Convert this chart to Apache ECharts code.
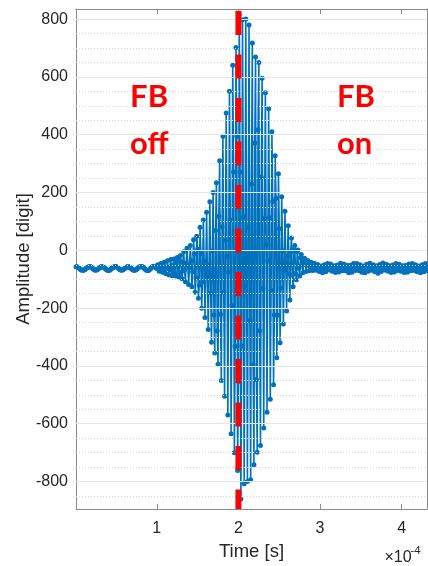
<!DOCTYPE html>
<html>
<head>
<meta charset="utf-8">
<script src="https://cdn.jsdelivr.net/npm/echarts@6/dist/echarts.min.js"></script>
<style>
html,body{margin:0;padding:0;background:#ffffff;}
#chart{width:428px;height:566px;}
</style>
</head>
<body>
<div id="chart"></div>
<script>
// ---- data ----
const timeStart = 1e-6;          // first sample time [s]
const sampleInterval = 1e-6;     // sample spacing [s]
const amplitude = [
  // baseline, FB off (t = 0.01 .. 1.00 e-4)
  -57,-57,-58,-60,-62,-65,-67,-68,-69,-69,-68,-66,-63,-61,-59,-58,
  -57,-56,-57,-59,-62,-64,-66,-68,-69,-68,-67,-65,-63,-60,-58,-57,
  -57,-58,-59,-61,-63,-66,-68,-69,-70,-69,-67,-65,-62,-60,-58,-57,
  -56,-56,-58,-60,-62,-65,-67,-68,-69,-68,-66,-64,-62,-60,-58,-57,
  -57,-57,-59,-61,-64,-66,-68,-69,-69,-68,-66,-63,-61,-59,-57,-56,
  -56,-57,-58,-61,-63,-66,-68,-70,-70,-69,-67,-64,-61,-58,-56,-55,
  -56,-58,-60,-63,
  // burst (t = 1.01 .. 2.92 e-4)
  -50,-55,-72,-68,  -46,-55,-76,-67,  -41,-58,-81,-64,  -36,-63,-85,-58,
  -32,-69,-88,-51,  -30,-76,-89,-43,  -25,-82,-92,-35,  -18,-76,-98,-40,
  -5,-68,-109,-46,  7,-52,-118,-59,   17,-36,-126,-73,  37,-13,-145,-95,
  49,4,-166,-121,   80,-11,-200,-109, 105,-38,-232,-89, 132,-91,-274,-51,
  168,-148,-318,-2, 200,-224,-355,69, 234,-278,-394,118, 310,-222,-450,82,
  395,-145,-505,35, 475,-21,-570,-74, 550,106,-635,-191, 640,271,-700,-332,
  702,394,-762,-454, 815,271,-860,-331, 798,115,-808,-125, 800,-80,-800,80,
  780,-243,-794,229, 717,-396,-742,371, 669,-447,-699,417, 650,-278,-675,253,
  595,-131,-615,111, 545,20,-560,-35,  490,113,-515,-138, 410,169,-465,-224,
  327,180,-372,-225, 265,75,-320,-130, 185,-2,-255,-68,  135,-55,-210,-20,
  85,-82,-172,-5,   43,-86,-126,3,    17,-80,-102,-5,   1,-62,-89,-26,
  -14,-52,-78,-40,  -27,-49,-73,-51,  -35,-48,-71,-58,  -41,-49,-70,-62,
  // baseline, FB on (t = 2.93 .. 4.31 e-4)
  -45,-52,-69,-62,  -49,-53,-73,-69,  -54,-63,-78,-69,  -50,-66,-74,-58,
  -46,-65,-68,-49,  -47,-58,-72,-62,  -53,-59,-77,-71,  -51,-62,-75,-64,
  -45,-63,-71,-53,  -47,-52,-71,-66,  -52,-61,-78,-69,  -52,-67,-76,-61,
  -46,-65,-70,-51,  -46,-55,-70,-61,  -50,-55,-76,-71,  -54,-64,-78,-68,
  -48,-66,-72,-54,  -45,-53,-69,-61,  -50,-55,-74,-69,  -53,-66,-79,-66,
  -49,-67,-73,-55,  -44,-53,-68,-59,  -48,-52,-72,-68,  -53,-63,-77,-67,
  -51,-68,-75,-58,  -46,-60,-70,-56,  -48,-54,-72,-66,  -53,-62,-77,-68,
  -52,-68,-76,-60,  -47,-66,-71,-52,  -46,-54,-70,-62,  -50,-55,-74,-69,
  -54,-65,-78,-67,  -50,-67,-74,-57,  -46,-62,-70
];
const xLimits = [1e-6, 4.31e-4];
const yLimits = [-895, 835];
const xTickValues = [1e-4, 2e-4, 3e-4, 4e-4];
const xMinorValues = [0.2e-4,0.4e-4,0.6e-4,0.8e-4,1.2e-4,1.4e-4,1.6e-4,1.8e-4,2.2e-4,2.4e-4,2.6e-4,2.8e-4,3.2e-4,3.4e-4,3.6e-4,3.8e-4,4.2e-4];
const yTickValues = [-800,-600,-400,-200,0,200,400,600,800];
const yMinorValues = [-850,-750,-700,-650,-550,-500,-450,-350,-300,-250,-150,-100,-50,50,100,150,250,300,350,450,500,550,650,700,750];
const switchTime = 2e-4;
const annotations = [
  {text: 'FB\noff', t: 0.673e-4, v: 449},
  {text: 'FB\non',  t: 3.208e-4, v: 449}
];
const xLabel = 'Time [s]';
const yLabel = 'Amplitude [digit]';

// ---- build ----
const seriesData = amplitude.map((v, i) => [timeStart + i * sampleInterval, v]);

const AXIS_COLOR = '#8a8a8a';
const TEXT_COLOR = '#262626';
const FONT = 'Liberation Sans, Arial, sans-serif';

const gridLines = [];
xMinorValues.forEach(v => gridLines.push({xAxis: v, lineStyle: {color: '#d6d6d6', width: 1, type: [1, 2]}}));
yMinorValues.forEach(v => gridLines.push({yAxis: v, lineStyle: {color: '#d6d6d6', width: 1, type: [1, 2]}}));
xTickValues.forEach(v => gridLines.push({xAxis: v, lineStyle: {color: '#e4e4e4', width: 1, type: 'solid'}}));
yTickValues.forEach(v => gridLines.push({yAxis: v, lineStyle: {color: '#e4e4e4', width: 1, type: 'solid'}}));

function axisCommon(extra) {
  return Object.assign({
    type: 'value',
    axisLine: {show: true, onZero: false, lineStyle: {color: AXIS_COLOR, width: 1}},
    splitLine: {show: false},
    minorSplitLine: {show: false}
  }, extra);
}

const chart = echarts.init(document.getElementById('chart'), null, {renderer: 'canvas'});

const option = {
  animation: false,
  backgroundColor: '#ffffff',
  grid: {left: 76, right: 1, top: 9, bottom: 53, containLabel: false},
  xAxis: [
    axisCommon({
      min: xLimits[0], max: xLimits[1], position: 'bottom',
      axisTick: {show: true, inside: true, length: 5, customValues: xTickValues, lineStyle: {color: AXIS_COLOR}},
      axisLabel: {show: true, customValues: xTickValues, margin: 12, fontSize: 16, color: TEXT_COLOR, fontFamily: FONT,
        formatter: v => String(Math.round(v * 1e4))},
      name: xLabel, nameLocation: 'middle', nameGap: 33, nameMoveOverlap: false,
      nameTextStyle: {fontSize: 18.5, color: TEXT_COLOR, fontFamily: FONT}
    }),
    axisCommon({
      min: xLimits[0], max: xLimits[1], position: 'top',
      axisTick: {show: true, inside: true, length: 5, customValues: xTickValues, lineStyle: {color: AXIS_COLOR}},
      axisLabel: {show: false}
    })
  ],
  yAxis: [
    axisCommon({
      min: yLimits[0], max: yLimits[1], position: 'left',
      axisTick: {show: true, inside: true, length: 5, customValues: yTickValues, lineStyle: {color: AXIS_COLOR}},
      axisLabel: {show: true, customValues: yTickValues, margin: 8, fontSize: 16, color: TEXT_COLOR, fontFamily: FONT,
        formatter: v => String(v)},
      name: yLabel, nameLocation: 'middle', nameGap: 43, nameMoveOverlap: false,
      nameTextStyle: {fontSize: 18.5, color: TEXT_COLOR, fontFamily: FONT}
    }),
    axisCommon({
      min: yLimits[0], max: yLimits[1], position: 'right',
      axisTick: {show: true, inside: true, length: 5, customValues: yTickValues, lineStyle: {color: AXIS_COLOR}},
      axisLabel: {show: false}
    })
  ],
  series: [
    {
      name: 'grid', type: 'line', data: [], z: 1, silent: true,
      markLine: {silent: true, symbol: ['none', 'none'], label: {show: false}, animation: false, data: gridLines}
    },
    {
      name: 'signal', type: 'line', data: seriesData, z: 3,
      xAxisIndex: 0, yAxisIndex: 0,
      symbol: 'circle', symbolSize: 5, showSymbol: true,
      lineStyle: {color: '#0072BD', width: 1.6},
      itemStyle: {color: '#0072BD'},
      silent: true
    },
    {
      name: 'switch', type: 'line', z: 5, silent: true,
      data: [[switchTime, yLimits[1]], [switchTime, yLimits[0]]],
      symbol: 'none',
      lineStyle: {color: '#ff0000', width: 6, type: [24, 19.5], dashOffset: 41.5, cap: 'butt'}
    }
  ],
  graphic: [
    {type: 'text', x: 384.5, y: 557.5, silent: true,
      style: {text: '×10', fill: TEXT_COLOR, font: '16px Liberation Sans', textAlign: 'left', textVerticalAlign: 'middle'}},
    {type: 'text', x: 410.5, y: 551.2, silent: true,
      style: {text: '-4', fill: TEXT_COLOR, font: '11.5px Liberation Sans', textAlign: 'left', textVerticalAlign: 'middle'}}
  ]
};

chart.setOption(option);

const annoGraphics = annotations.map(a => {
  const p = chart.convertToPixel({gridIndex: 0}, [a.t, a.v]);
  return {
    type: 'text', x: p[0], y: p[1], z: 10, silent: true,
    style: {text: a.text, fill: '#ff0000', font: 'bold 31px Lato', lineHeight: 47,
      textAlign: 'left', textVerticalAlign: 'middle'}
  };
});
chart.setOption({graphic: option.graphic.concat(annoGraphics)});
</script>
</body>
</html>
